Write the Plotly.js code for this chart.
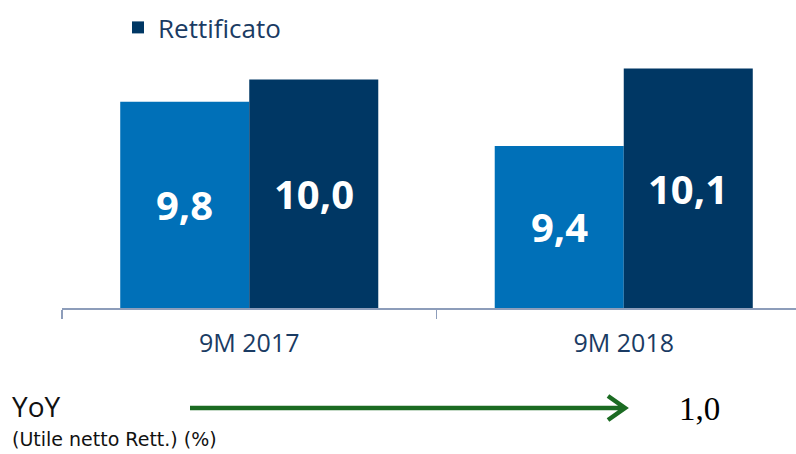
<!DOCTYPE html>
<html>
<head>
<meta charset="utf-8">
<script src="https://cdn.plot.ly/plotly-3.0.1.min.js"></script>
<style>
html,body{margin:0;padding:0;background:#fff;}
#chart{width:796px;height:454px;}
</style>
</head>
<body>
<div id="chart"></div>
<script>
// Data
const categories = ["9M 2017", "9M 2018"];
const reportedValues = [9.8, 9.4];
const adjustedValues = [10.0, 10.1];
const seriesNames = ["Contabile", "Rettificato"];
const yoyLabel = "YoY";
const yoySubLabel = "(Utile netto Rett.) (%)";
const yoyValue = "1,0";

const lightBlue = "#0070B8";
const navy = "#003764";
const textNavy = "#1A3B63";
const axisGray = "#8D9DBA";
const green = "#1B6B22";

// Plot area geometry helpers (pixel -> paper)
const L = 62, R = 0, T = 40, B = 146, W = 796, H = 454;
const pw = W - L - R, ph = H - T - B;
const px = x => (x - L) / pw;
const py = y => (H - B - y) / ph;
const yMin = 7.935, yMax = yMin + ph / 110.6;
const groupOffset = 0.1722; // half of one bar width in category units
const fmt = v => v.toFixed(1).replace(".", ",");

const labelFont = {family: "Open Sans", size: 40, color: "#ffffff", weight: "bold"};

const traces = [
  {type: "bar", x: categories, y: reportedValues, name: seriesNames[0],
   marker: {color: lightBlue}, showlegend: false, hoverinfo: "skip"},
  {type: "bar", x: categories, y: adjustedValues, name: seriesNames[1],
   marker: {color: navy}, hoverinfo: "skip"}
];

const valueLabels = [];
categories.forEach((c, i) => {
  [[reportedValues, -groupOffset], [adjustedValues, groupOffset]].forEach(([arr, off]) => {
    valueLabels.push({
      xref: "x", yref: "y", x: i + off, y: (yMin + arr[i]) / 2,
      xanchor: "center", yanchor: "middle", showarrow: false,
      text: fmt(arr[i]), font: labelFont
    });
  });
});

const layout = {
  width: W, height: H,
  margin: {l: L, r: R, t: T, b: B},
  paper_bgcolor: "#fff", plot_bgcolor: "#fff",
  barmode: "group", bargap: 0.311, bargroupgap: 0,
  font: {family: "Open Sans", color: textNavy},
  showlegend: true,
  legend: {
    orientation: "h", x: px(118), xanchor: "left", y: py(4), yanchor: "top",
    font: {family: "Open Sans", size: 26, color: textNavy},
    bgcolor: "rgba(0,0,0,0)"
  },
  xaxis: {
    type: "category", range: [-0.5, -0.5 + pw / 374.5],
    showline: true, linecolor: axisGray, linewidth: 1.5,
    ticks: "outside", tickson: "boundaries", ticklen: 9, tickcolor: axisGray, tickwidth: 1.5,
    tickfont: {family: "Open Sans", size: 25, color: textNavy},
    ticklabelstandoff: 12,
    showgrid: false, zeroline: false, fixedrange: true
  },
  yaxis: {visible: false, range: [yMin, yMax], fixedrange: true},
  shapes: [
    {type: "path", xref: "paper", yref: "paper",
     path: `M${px(190)},${py(408)} L${px(624)},${py(408)} M${px(608)},${py(396)} L${px(625)},${py(408)} L${px(608)},${py(420)}`,
     line: {color: green, width: 4.5}}
  ],
  annotations: valueLabels.concat([
    {xref: "paper", yref: "paper", x: px(10), y: py(406), xanchor: "left", yanchor: "middle",
     text: yoyLabel, showarrow: false, font: {family: "Open Sans", size: 28, color: "#111"}},
    {xref: "paper", yref: "paper", x: px(10), y: py(439), xanchor: "left", yanchor: "middle",
     text: yoySubLabel, showarrow: false, font: {family: "DejaVu Sans", size: 19, color: "#111"}},
    {xref: "paper", yref: "paper", x: px(677), y: py(409), xanchor: "left", yanchor: "middle",
     text: yoyValue, showarrow: false, font: {family: "Liberation Serif", size: 33, color: "#000"}}
  ])
};

Plotly.newPlot("chart", traces, layout, {displayModeBar: false, staticPlot: true});
</script>
</body>
</html>
